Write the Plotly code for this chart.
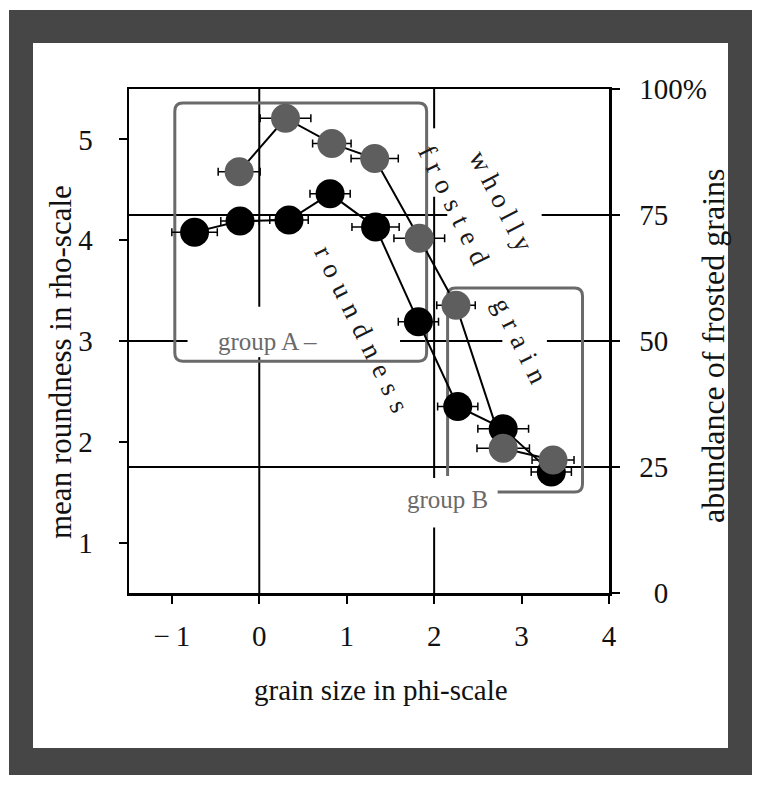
import plotly.graph_objects as go

# ---------------- data ----------------
roundness_phi = [-0.74, -0.22, 0.34, 0.81, 1.33, 1.82, 2.27, 2.79, 3.34]
roundness_rho = [4.08, 4.19, 4.20, 4.46, 4.13, 3.19, 2.35, 2.13, 1.70]
roundness_err = [0.26, 0.22, 0.22, 0.23, 0.27, 0.23, 0.23, 0.29, 0.23]

frosted_phi = [-0.23, 0.30, 0.83, 1.32, 1.83, 2.25, 2.79, 3.36]
frosted_pct = [83.6, 94.2, 89.2, 86.2, 70.4, 57.1, 28.7, 26.4]
frosted_err = [0.24, 0.29, 0.22, 0.27, 0.29, 0.22, 0.30, 0.24]

x_ticks = [-1, 0, 1, 2, 3, 4]
x_ticktext = ["\u2212\u20091", "0", "1", "2", "3", "4"]
y_ticks = [1, 2, 3, 4, 5]
y2_ticks = [0, 25, 50, 75, 100]
y2_ticktext = ["\u20070", "25", "50", "75", "100%"]

# ---------------- styling / layout constants ----------------
FONT = "Liberation Serif"
INK = "#111111"
GRAY_MARK = "#5e5e5e"
BOX_GRAY = "#6a6a6a"
FRAME = "#464646"

W, H = 760, 785
ML, MR, MT, MB = 129, 151, 89, 192
PW, PH = W - ML - MR, H - MT - MB


def px(xp):
    return (xp - ML) / PW


def py(yp):
    return (H - MB - yp) / PH


fig = go.Figure()

fig.add_trace(go.Scatter(
    x=roundness_phi, y=roundness_rho, mode="lines+markers",
    line=dict(color="black", width=2),
    marker=dict(color="black", size=29),
    error_x=dict(type="data", array=roundness_err, color="black",
                 thickness=1.5, width=4),
    showlegend=False, yaxis="y", cliponaxis=False, hoverinfo="skip",
))
fig.add_trace(go.Scatter(
    x=frosted_phi, y=frosted_pct, mode="lines+markers",
    line=dict(color="black", width=2),
    marker=dict(color=GRAY_MARK, size=29),
    error_x=dict(type="data", array=frosted_err, color="black",
                 thickness=1.5, width=4),
    showlegend=False, yaxis="y2", cliponaxis=False, hoverinfo="skip",
))

shapes = []
# outer dark frame and white inner panel (paper coordinates)
shapes.append(dict(type="rect", xref="paper", yref="paper", layer="below",
                   x0=px(9), x1=px(752), y0=py(775), y1=py(10),
                   fillcolor=FRAME, line=dict(width=0)))
shapes.append(dict(type="rect", xref="paper", yref="paper", layer="below",
                   x0=px(33), x1=px(728), y0=py(748), y1=py(43),
                   fillcolor="white", line=dict(width=0)))

# reference lines (with gaps around the lettering), in left-axis units
segs = [
    # 75 % level (rho 4.25)
    (-1.49, 4.25, 2.15, 4.25), (3.23, 4.25, 4.0, 4.25),
    # 50 % level (rho 3.0)
    (-1.49, 3.0, -0.82, 3.0), (1.61, 3.0, 2.78, 3.0), (3.29, 3.0, 4.0, 3.0),
    # 25 % level (rho 1.75)
    (-1.49, 1.75, 4.0, 1.75),
    # phi = 0
    (0, 5.5, 0, 3.34), (0, 2.84, 0, 0.5),
    # phi = 2
    (2, 5.5, 2, 5.11), (2, 4.43, 2, 1.64), (2, 1.15, 2, 0.5),
]
for x0, y0, x1, y1 in segs:
    shapes.append(dict(type="line", xref="x", yref="y", x0=x0, y0=y0,
                       x1=x1, y1=y1, line=dict(color="black", width=2),
                       layer="below"))


def rounded_box(x0, x1, y0, y1, rx=0.09, ry=0.08):
    return (f"M {x0+rx},{y1} L {x1-rx},{y1} Q {x1},{y1} {x1},{y1-ry} "
            f"L {x1},{y0+ry} Q {x1},{y0} {x1-rx},{y0} L {x0+rx},{y0} "
            f"Q {x0},{y0} {x0},{y0+ry} L {x0},{y1-ry} Q {x0},{y1} {x0+rx},{y1} Z")


# group A box
shapes.append(dict(type="path", xref="x", yref="y",
                   path=rounded_box(-0.966, 1.914, 2.80, 5.36),
                   line=dict(color=BOX_GRAY, width=3), layer="below"))
# group B box (open at the lower-left where its label sits)
bx0, bx1, by0, by1, rx, ry = 2.154, 3.697, 1.502, 3.526, 0.09, 0.08
pathB = (f"M {bx0},1.66 L {bx0},{by1-ry} Q {bx0},{by1} {bx0+rx},{by1} "
         f"L {bx1-rx},{by1} Q {bx1},{by1} {bx1},{by1-ry} L {bx1},{by0+ry} "
         f"Q {bx1},{by0} {bx1-rx},{by0} L 2.726,{by0}")
shapes.append(dict(type="path", xref="x", yref="y", path=pathB,
                   line=dict(color=BOX_GRAY, width=3), layer="below"))

annotations = []


def spaced(word, gap="\u00a0\u2009"):
    return gap.join(list(word))


LETTER_FONT = dict(family=FONT, size=27, color="#1a1a1a")
annotations.append(dict(x=0.09, y=3.0, xref="x", yref="y", text="group A \u2013",
                        showarrow=False, font=dict(family=FONT, size=25, color=BOX_GRAY)))
annotations.append(dict(x=2.151, y=1.43, xref="x", yref="y", text="group B",
                        showarrow=False, font=dict(family=FONT, size=25, color=BOX_GRAY)))
annotations.append(dict(x=2.77, y=4.39, xref="x", yref="y",
                        text=spaced("wholly", "\u00a0"),
                        textangle=63, showarrow=False, font=LETTER_FONT))
annotations.append(dict(x=2.55, y=3.76, xref="x", yref="y",
                        text=spaced("frosted", "\u00a0\u200a") + "\u2002\u2002\u2002"
                        + spaced("grain", "\u00a0\u200a"),
                        textangle=64, showarrow=False, font=LETTER_FONT))
annotations.append(dict(x=1.17, y=3.12, xref="x", yref="y",
                        text=spaced("roundness", "\u00a0\u200a"),
                        textangle=64, showarrow=False, font=LETTER_FONT))
# axis titles
annotations.append(dict(x=px(381), y=py(690), xref="paper", yref="paper",
                        xanchor="center", yanchor="middle",
                        text="grain size in phi-scale", showarrow=False,
                        font=dict(family=FONT, size=29, color=INK)))
annotations.append(dict(x=px(60), y=py(362), xref="paper", yref="paper",
                        xanchor="center", yanchor="middle",
                        text="mean roundness in rho-scale", showarrow=False, textangle=-90,
                        font=dict(family=FONT, size=31, color=INK)))
annotations.append(dict(x=px(713), y=py(346), xref="paper", yref="paper",
                        xanchor="center", yanchor="middle",
                        text="abundance of frosted grains", showarrow=False, textangle=-90,
                        font=dict(family=FONT, size=32, color=INK)))

axis_common = dict(showgrid=False, zeroline=False, showline=True, linecolor="black",
                   linewidth=2.5, ticks="outside", ticklen=8, tickwidth=2,
                   tickcolor="black", tickfont=dict(family=FONT, size=29, color=INK))

fig.update_layout(
    width=W, height=H, autosize=False,
    margin=dict(l=ML, r=MR, t=MT, b=MB),
    paper_bgcolor="white", plot_bgcolor="rgba(0,0,0,0)",
    xaxis=dict(range=[-1.49, 4.0], tickvals=x_ticks, ticktext=x_ticktext,
               mirror=True, ticklabelstandoff=8, **axis_common),
    yaxis=dict(range=[0.5, 5.5], tickvals=y_ticks, ticklabelstandoff=20,
               **axis_common),
    yaxis2=dict(range=[0, 100], tickvals=y2_ticks, ticktext=y2_ticktext,
                overlaying="y", side="right", ticklabelstandoff=14, **axis_common),
    shapes=shapes, annotations=annotations, showlegend=False,
    hovermode=False,
)

fig.write_html("out.html", config={"displayModeBar": False, "staticPlot": True},
               post_script="document.body.style.margin='0';document.body.style.overflow='hidden';")
